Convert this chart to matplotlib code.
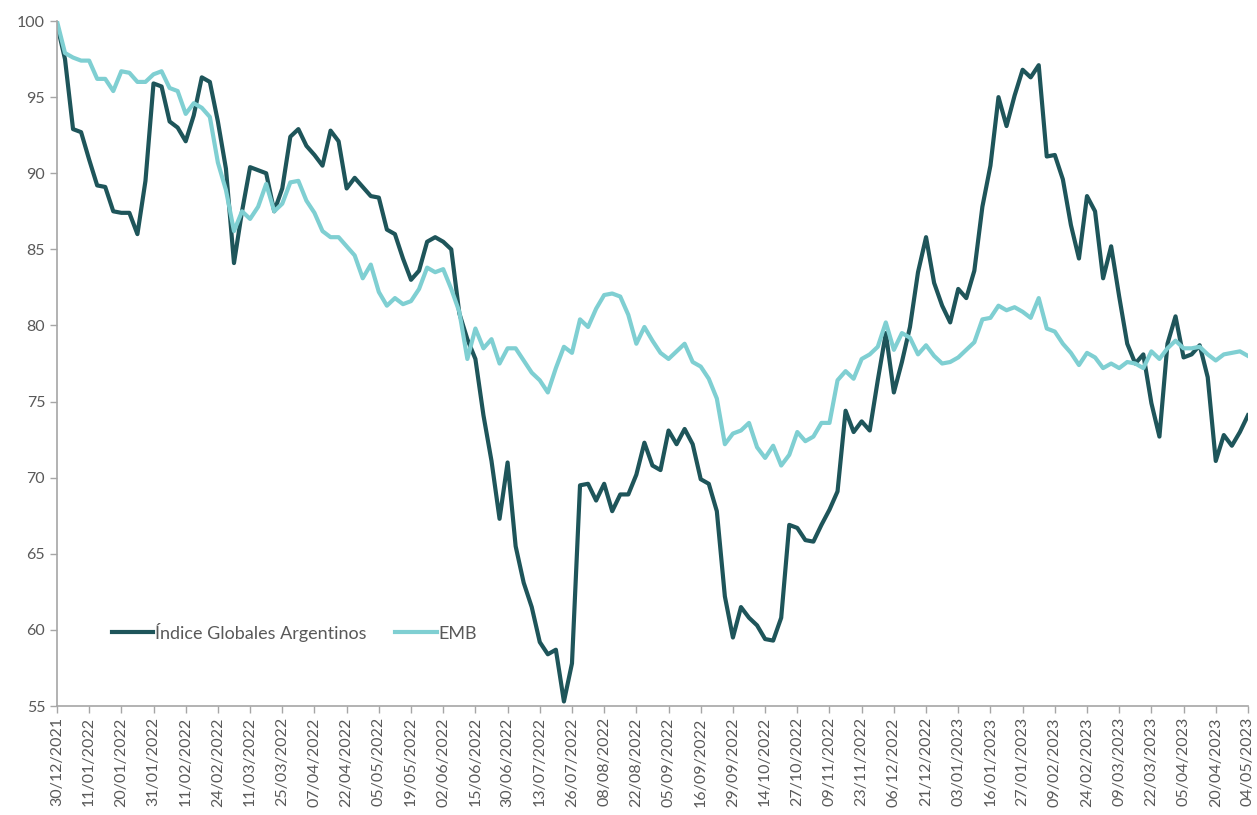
import numpy as np
import matplotlib
matplotlib.use("Agg")
import matplotlib.pyplot as plt

# Tick labels (one every 4 points)
date_labels = [
    "30/12/2021", "11/01/2022", "20/01/2022", "31/01/2022", "11/02/2022", "24/02/2022",
    "11/03/2022", "25/03/2022", "07/04/2022", "22/04/2022", "05/05/2022", "19/05/2022",
    "02/06/2022", "15/06/2022", "30/06/2022", "13/07/2022", "26/07/2022", "08/08/2022",
    "22/08/2022", "05/09/2022", "16/09/2022", "29/09/2022", "14/10/2022", "27/10/2022",
    "09/11/2022", "23/11/2022", "06/12/2022", "21/12/2022", "03/01/2023", "16/01/2023",
    "27/01/2023", "09/02/2023", "24/02/2023", "09/03/2023", "22/03/2023", "05/04/2023",
    "20/04/2023", "04/05/2023",
]

# Índice Globales Argentinos (base 100)
arg_values = [
    99.8, 97.5, 92.9, 92.7, 90.9, 89.2, 89.1, 87.5, 87.4, 87.4,
    86.0, 89.5, 95.9, 95.7, 93.4, 93.0, 92.1, 93.8, 96.3, 96.0,
    93.4, 90.3, 84.1, 87.5, 90.4, 90.2, 90.0, 87.5, 89.0, 92.4,
    92.9, 91.8, 91.2, 90.5, 92.8, 92.1, 89.0, 89.7, 89.1, 88.5,
    88.4, 86.3, 86.0, 84.4, 83.0, 83.6, 85.5, 85.8, 85.5, 85.0,
    80.8, 79.1, 77.8, 74.1, 71.1, 67.3, 71.0, 65.5, 63.1, 61.5,
    59.2, 58.4, 58.7, 55.3, 57.8, 69.5, 69.6, 68.5, 69.6, 67.8,
    68.9, 68.9, 70.2, 72.3, 70.8, 70.5, 73.1, 72.2, 73.2, 72.2,
    69.9, 69.6, 67.8, 62.2, 59.5, 61.5, 60.8, 60.3, 59.4, 59.3,
    60.8, 66.9, 66.7, 65.9, 65.8, 66.9, 67.9, 69.1, 74.4, 73.0,
    73.7, 73.1, 76.4, 79.5, 75.6, 77.6, 79.9, 83.5, 85.8, 82.8,
    81.3, 80.2, 82.4, 81.8, 83.6, 87.8, 90.5, 95.0, 93.1, 95.1,
    96.8, 96.3, 97.1, 91.1, 91.2, 89.6, 86.6, 84.4, 88.5, 87.5,
    83.1, 85.2, 81.9, 78.8, 77.5, 78.1, 74.9, 72.7, 78.8, 80.6,
    77.9, 78.1, 78.7, 76.6, 71.1, 72.8, 72.1, 73.0, 74.1,
]

# EMB (base 100)
emb_values = [
    100.0, 97.9, 97.6, 97.4, 97.4, 96.2, 96.2, 95.4, 96.7, 96.6,
    96.0, 96.0, 96.5, 96.7, 95.6, 95.4, 93.9, 94.6, 94.3, 93.7,
    90.7, 88.9, 86.2, 87.5, 87.0, 87.8, 89.3, 87.5, 88.0, 89.4,
    89.5, 88.2, 87.4, 86.2, 85.8, 85.8, 85.2, 84.6, 83.1, 84.0,
    82.2, 81.3, 81.8, 81.4, 81.6, 82.4, 83.8, 83.5, 83.7, 82.4,
    80.9, 77.8, 79.8, 78.5, 79.1, 77.5, 78.5, 78.5, 77.7, 76.9,
    76.4, 75.6, 77.2, 78.6, 78.2, 80.4, 79.9, 81.1, 82.0, 82.1,
    81.9, 80.7, 78.8, 79.9, 79.0, 78.2, 77.8, 78.3, 78.8, 77.6,
    77.3, 76.5, 75.2, 72.2, 72.9, 73.1, 73.6, 72.0, 71.3, 72.1,
    70.8, 71.5, 73.0, 72.4, 72.7, 73.6, 73.6, 76.4, 77.0, 76.5,
    77.8, 78.1, 78.6, 80.2, 78.4, 79.5, 79.2, 78.1, 78.7, 78.0,
    77.5, 77.6, 77.9, 78.4, 78.9, 80.4, 80.5, 81.3, 81.0, 81.2,
    80.9, 80.5, 81.8, 79.8, 79.6, 78.8, 78.2, 77.4, 78.2, 77.9,
    77.2, 77.5, 77.2, 77.6, 77.5, 77.2, 78.3, 77.8, 78.5, 79.0,
    78.5, 78.5, 78.6, 78.1, 77.7, 78.1, 78.2, 78.3, 78.0,
]

plt.rcParams['font.family'] = ['Lato', 'DejaVu Sans']

fig = plt.figure(figsize=(12.57, 8.15), dpi=100)
ax = fig.add_axes([0.0453, 0.1337, 0.9475, 0.8405])

x = np.arange(len(arg_values))
ax.plot(x, arg_values, color='#1e555a', lw=3.0, label='Índice Globales Argentinos', solid_joinstyle='round')
ax.plot(x, emb_values, color='#7fcfd2', lw=3.0, label='EMB', solid_joinstyle='round')

ax.set_xlim(0, len(arg_values) - 1)
ax.set_ylim(55, 100)
ax.set_yticks(np.arange(55, 101, 5))
ax.set_xticks(np.arange(0, len(arg_values), 4))
ax.set_xticklabels(date_labels, rotation=90)

for side in ['top', 'right']:
    ax.spines[side].set_visible(False)
for side in ['left', 'bottom']:
    ax.spines[side].set_color('#a6a6a6')
    ax.spines[side].set_linewidth(1.2)
ax.tick_params(axis='both', colors='#a6a6a6', length=5, width=1.0, labelcolor='#595959', labelsize=11.5)
ax.tick_params(axis='x', pad=3)

leg = ax.legend(loc='center left', bbox_to_anchor=(0.046, 0.108), ncol=2, frameon=False,
                fontsize=13, handlelength=2.3, handletextpad=0.1, columnspacing=1.6,
                borderpad=0, borderaxespad=0)
for t in leg.get_texts():
    t.set_color('#595959')

fig.savefig('out.png', dpi=100)
